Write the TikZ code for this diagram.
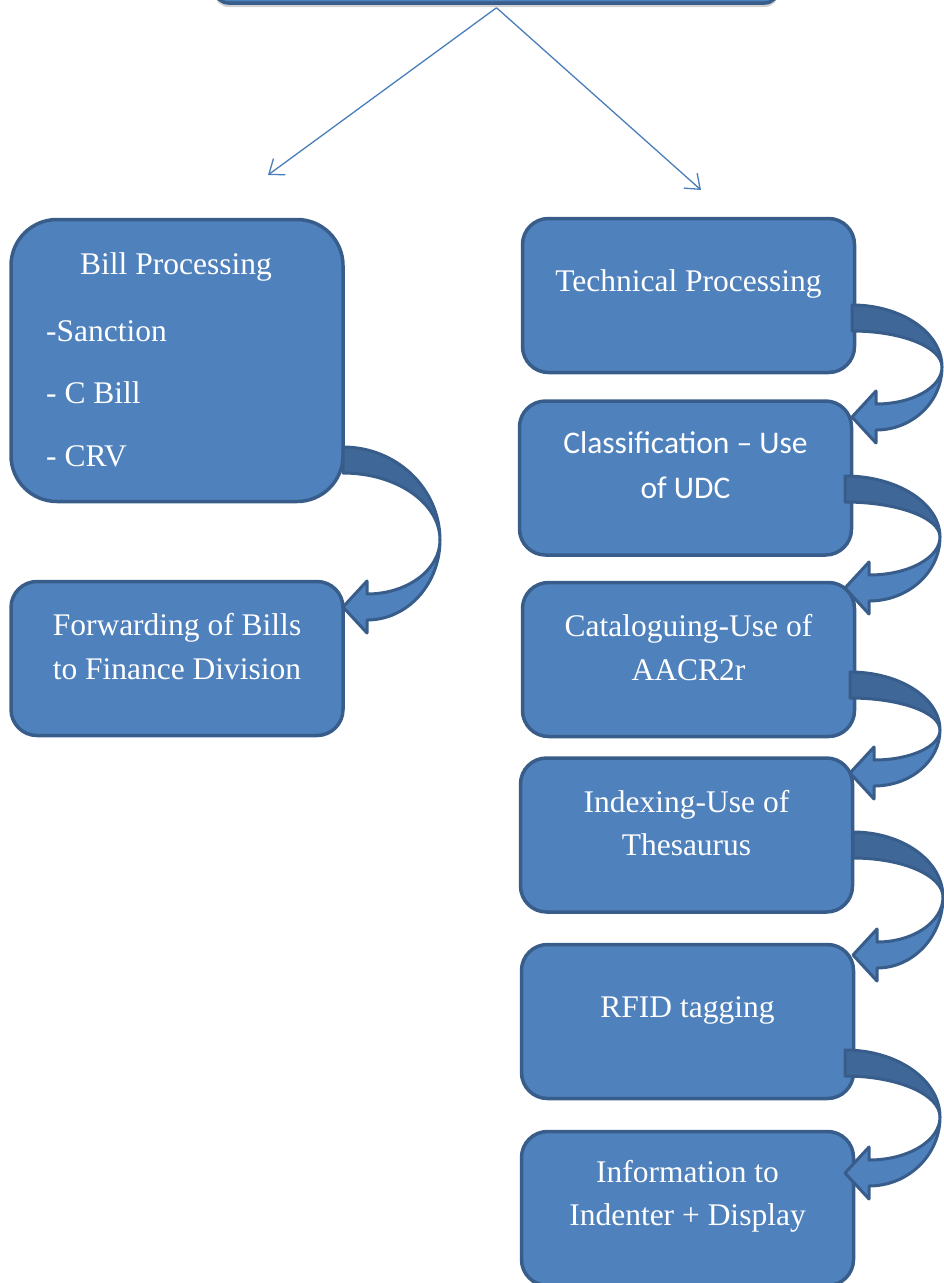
\documentclass[tikz,border=0pt]{standalone}
\usepackage{fontspec}
\setmainfont{Liberation Serif}
\newfontfamily\calfont{Carlito}
\usetikzlibrary{arrows.meta,shadows}
\definecolor{boxblue}{HTML}{4F81BD}
\definecolor{boxedge}{HTML}{385D8A}
\definecolor{backblue}{HTML}{3F6797}
\definecolor{linkblue}{HTML}{4A7EBB}
\tikzset{
procbox/.style={draw=boxedge,fill=boxblue,line width=3.5pt,rounded corners=26pt,minimum width=332pt,minimum height=154pt,inner sep=0pt},
bigbox/.style={procbox,rounded corners=46pt,minimum height=282pt},
topbox/.style={procbox,minimum width=564pt,minimum height=66pt,rounded corners=14pt,drop shadow={shadow xshift=0pt,shadow yshift=-4pt,fill=black!35}},
boxtext/.style={text=white,font=\fontsize{31.5}{43.5}\selectfont,align=center,inner sep=0pt},
calibtext/.style={boxtext,font=\calfont\fontsize{31.5}{45}\selectfont},
backband/.style={draw=boxedge,fill=backblue,line width=3pt,line join=round},
frontband/.style={draw=boxedge,fill=boxblue,line width=3pt,line join=round},
thinarrow/.style={linkblue,line width=1.3pt,-{Straight Barb[length=13pt,width=20pt]}}
}
\begin{document}
\begin{tikzpicture}[x=1pt,y=-1pt]
\useasboundingbox (0,0) rectangle (944,1283);
\node[topbox] (top) at (496.5,-30) {};
\coordinate (lefttip) at (268,175);
\coordinate (righttip) at (701,190);
\draw[thinarrow] ([yshift=-3pt]top.south) -- (lefttip);
\draw[thinarrow] ([yshift=-3pt]top.south) -- (righttip);
% left column
\node[bigbox] (bill) at (177,360.5) {};
\node[procbox] (fwd) at (177,658.5) {};
\node[boxtext] (billhead) at (176,267) {Bill Processing};
\node[boxtext,anchor=west] (sanct) at (46,331) {-Sanction};
\node[boxtext,anchor=west] (cbill) at (46,393) {- C Bill};
\node[boxtext,anchor=west] (crv) at (46,456) {- CRV};
\node[boxtext] (fwdtxt) at ([yshift=12pt]fwd.center) {Forwarding of Bills\\to Finance Division};
% right column
\node[procbox] (tech) at (688.5,295.5) {};
\node[procbox] (class) at (685.5,478) {};
\node[procbox] (catal) at (688.5,659.5) {};
\node[procbox] (index) at (686.5,835) {};
\node[procbox] (rfid) at (687.5,1021.5) {};
\node[procbox] (info) at (687.5,1208.5) {};
\node[boxtext] (techtxt) at ([yshift=11.5pt]tech.center) {Technical Processing};
\node[calibtext] (classtxt) at ([yshift=13pt]class.center) {Classification – Use\\of UDC};
\node[boxtext] (cataltxt) at ([yshift=12pt]catal.center) {Cataloguing-Use of\\AACR2r};
\node[boxtext] (indextxt) at ([yshift=12pt]index.center) {Indexing-Use of\\Thesaurus};
\node[boxtext] (rfidtxt) at ([yshift=11pt]rfid.center) {RFID tagging};
\node[boxtext] (infotxt) at ([yshift=12pt]info.center) {Information to\\Indenter + Display};
% curved arrows
\foreach \sx/\sy/\w/\h/\m in {343/447/97/160/93,852/305/90/112/62,845/476/95/112/61,850/672/90/101/58,853/832/90/123/65,845/1050/95/123/67}{
\begin{scope}[shift={(\sx,\sy)}]
\draw[backband] (0,0) .. controls ({0.552*\w},0) and (\w,{0.448*\m}) .. (\w,\m)
  .. controls (\w,{\m-0.552*(\m-26)}) and ({0.552*\w},26) .. (0,26) -- cycle;
\draw[frontband] (\w,\m) .. controls (\w,{\m+0.552*(\h+13-\m)}) and ({24+0.552*(\w-24)},\h+13) .. (24,\h+13)
  -- (24,\h+26) -- (0,\h) -- (24,\h-26) -- (24,\h-13)
  .. controls ({24+0.552*(\w-24)},\h-13) and (\w,{\m+0.552*(\h-13-\m)}) .. (\w,\m) -- cycle;
\end{scope}
}
\end{tikzpicture}
\end{document}
